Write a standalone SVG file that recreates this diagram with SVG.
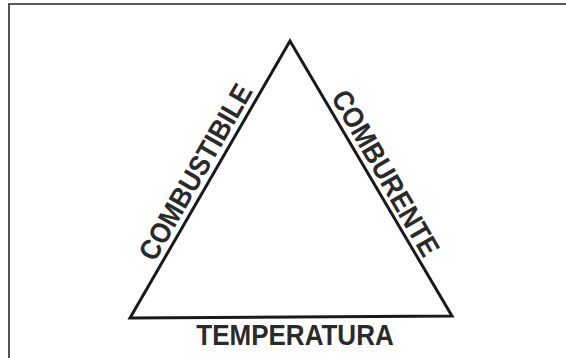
<svg xmlns="http://www.w3.org/2000/svg" width="566" height="358" viewBox="0 0 566 358">
<style>
.lbl{font-family:"Liberation Sans",Arial,Helvetica,sans-serif;font-weight:bold;font-size:26px;fill:#2a2a2a;text-anchor:middle}
.edge{fill:none;stroke:#1a1a1a;stroke-width:3;stroke-linejoin:miter}
</style>
<rect width="566" height="358" fill="#ffffff"/>
<g id="frame">
<line x1="8" y1="4" x2="566" y2="4" stroke="#222" stroke-width="1.5"/>
<line x1="9" y1="4" x2="9" y2="358" stroke="#555" stroke-width="2"/>
</g>
<g id="connectors">
<path class="edge" d="M290,41 L452,316 L130,318 Z"/>
</g>
<g id="combustibile">
<text class="lbl" transform="translate(204,177) rotate(-60) scale(1,1.1)">COMBUSTIBILE</text>
</g>
<g id="comburente">
<text class="lbl" transform="translate(377,178) rotate(60) scale(1,1.1)">COMBURENTE</text>
</g>
<g id="temperatura">
<text class="lbl" x="295" y="345" transform="translate(0,-34.5) scale(1,1.1)">TEMPERATURA</text>
</g>
</svg>
